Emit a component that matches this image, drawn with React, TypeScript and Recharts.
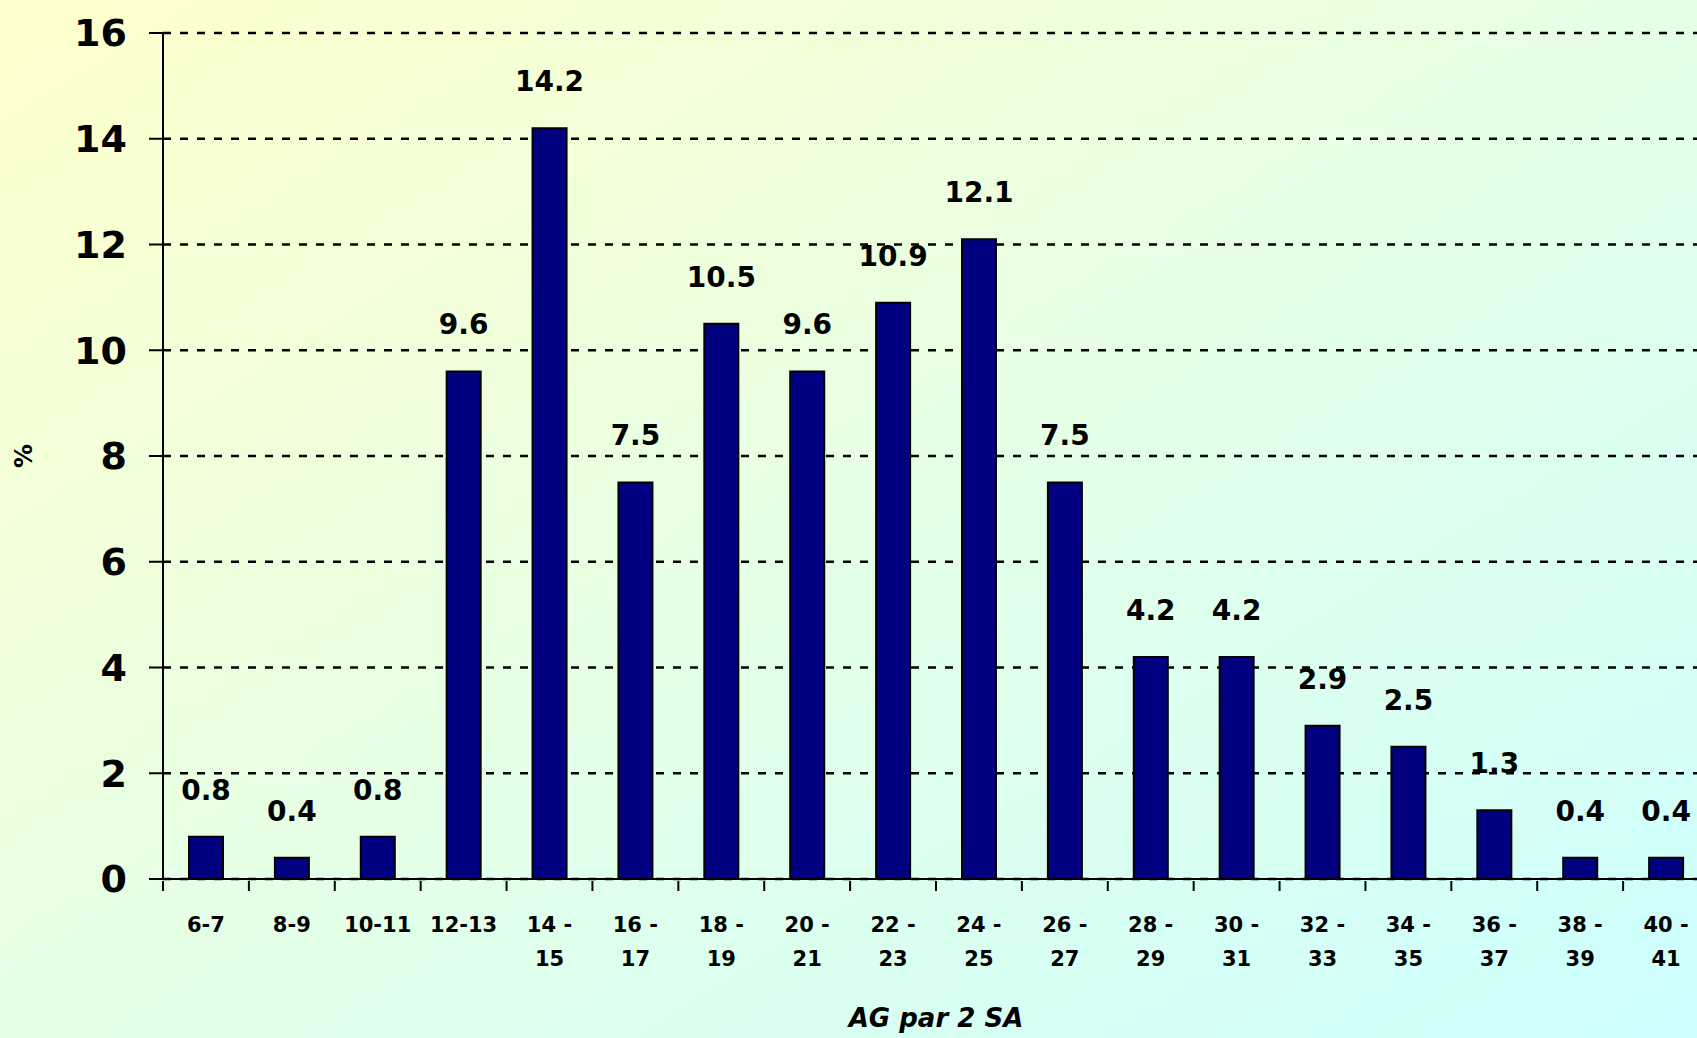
import { BarChart, Bar, XAxis, YAxis, CartesianGrid, LabelList } from "recharts";

const categories = [
  "6-7", "8-9", "10-11", "12-13", "14 - 15", "16 - 17", "18 - 19", "20 - 21", "22 - 23",
  "24 - 25", "26 - 27", "28 - 29", "30 - 31", "32 - 33", "34 - 35", "36 - 37", "38 - 39", "40 - 41",
];
const percents = [0.8, 0.4, 0.8, 9.6, 14.2, 7.5, 10.5, 9.6, 10.9, 12.1, 7.5, 4.2, 4.2, 2.9, 2.5, 1.3, 0.4, 0.4];
const yTicks = [0, 2, 4, 6, 8, 10, 12, 14, 16];

const data = categories.map((c, i) => ({ name: c, value: percents[i] }));

const FONT = "'DejaVu Sans', sans-serif";

// category label, split "14 - 15" in two lines; tick line drawn on the band's left edge
function XTick(props: any) {
  const { x, y, payload } = props;
  const parts = String(payload.value).split(" - ");
  const lines = parts.length > 1 ? [parts[0] + " -", parts[1]] : parts;
  const left = x - (payload.offset || 0);
  return (
    <g>
      <line x1={left} x2={left} y1={y} y2={y + 10} stroke="#000" strokeWidth={2} />
      {lines.map((l, i) => (
        <text
          key={i}
          x={x}
          y={y + 51 + i * 34}
          textAnchor="middle"
          fontFamily={FONT}
          fontWeight="bold"
          fontSize={21}
          fill="#000"
        >
          {l}
        </text>
      ))}
    </g>
  );
}

function YTitle(props: any) {
  const vb = props.viewBox || { x: 0, y: 0, width: 0, height: 0 };
  const cx = vb.x + 24;
  const cy = vb.y + vb.height / 2;
  return (
    <text
      x={cx}
      y={cy}
      transform={`rotate(-90 ${cx} ${cy})`}
      textAnchor="middle"
      dominantBaseline="central"
      fontFamily={FONT}
      fontWeight="bold"
      fontSize={24}
      fill="#000"
    >
      %
    </text>
  );
}

function XTitle(props: any) {
  const vb = props.viewBox || { x: 0, y: 0, width: 0, height: 0 };
  return (
    <text
      x={vb.x + vb.width / 2}
      y={vb.y + 148}
      textAnchor="middle"
      fontFamily={FONT}
      fontWeight="bold"
      fontStyle="italic"
      fontSize={26}
      fill="#000"
    >
      AG par 2 SA
    </text>
  );
}

export default function App() {
  return (
    <div
      style={{
        position: "absolute",
        left: 0,
        top: 0,
        width: 1697,
        height: 1038,
        overflow: "hidden",
        background: "linear-gradient(to bottom right, #ffffcc, #ccffff)",
      }}
    >
      <BarChart width={1720} height={1038} data={data} margin={{ top: 33, right: 11, left: 0, bottom: 0 }}>
        <CartesianGrid vertical={false} stroke="#000" strokeWidth={2.5} strokeDasharray="8 9" />
        <XAxis
          dataKey="name"
          height={159}
          interval={0}
          tickSize={0}
          tickLine={false}
          axisLine={{ stroke: "#000", strokeWidth: 2 }}
          tick={<XTick />}
          label={<XTitle />}
        />
        <YAxis
          width={163}
          domain={[0, 16]}
          ticks={yTicks}
          tickSize={14}
          tickMargin={22}
          axisLine={{ stroke: "#000", strokeWidth: 2 }}
          tickLine={{ stroke: "#000", strokeWidth: 2 }}
          tick={{ fill: "#000", fontSize: 38, fontWeight: "bold", fontFamily: FONT }}
          label={<YTitle />}
        />
        <Bar dataKey="value" fill="#000080" stroke="#000" strokeWidth={2} barSize={34} isAnimationActive={false}>
          <LabelList
            dataKey="value"
            position="top"
            offset={37}
            fill="#000"
            fontSize={28}
            fontWeight="bold"
            fontFamily={FONT}
            formatter={(v: any) => Number(v).toFixed(1)}
          />
        </Bar>
      </BarChart>
    </div>
  );
}
